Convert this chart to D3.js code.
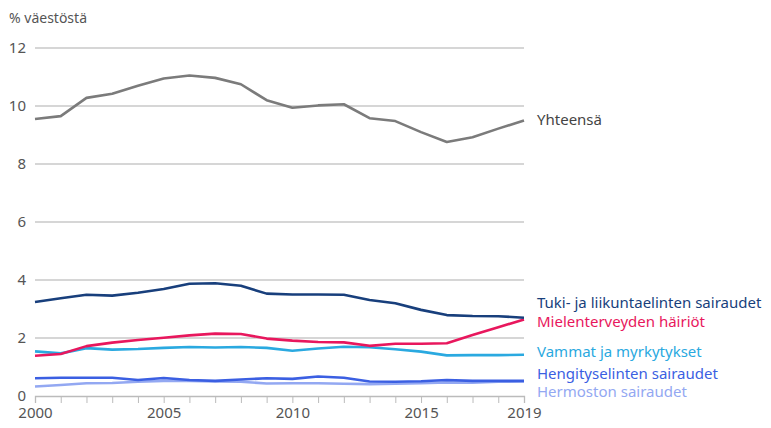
<!DOCTYPE html>
<html>
<head>
<meta charset="utf-8">
<script src="https://cdn.jsdelivr.net/npm/d3@7"></script>
<style>
  body { margin: 0; background: #fff; }
  svg text { font-family: "Noto Sans", "Open Sans", sans-serif; }
</style>
</head>
<body>
<div id="chart"></div>
<script>
const years = d3.range(2000, 2020);
const yTicks = [0, 2, 4, 6, 8, 10, 12];
const xTickLabels = [2000, 2005, 2010, 2015, 2019];

const yhteensa = [9.55, 9.65, 10.28, 10.42, 10.7, 10.95, 11.05, 10.97, 10.75, 10.2, 9.94, 10.02, 10.06, 9.58, 9.48, 9.1, 8.76, 8.92, 9.22, 9.5];
const tuki = [3.24, 3.37, 3.49, 3.46, 3.56, 3.69, 3.87, 3.89, 3.8, 3.53, 3.5, 3.5, 3.49, 3.31, 3.2, 2.97, 2.79, 2.76, 2.75, 2.7];
const mieli = [1.39, 1.45, 1.72, 1.84, 1.93, 2.01, 2.09, 2.15, 2.14, 1.98, 1.91, 1.86, 1.85, 1.73, 1.8, 1.8, 1.82, 2.1, 2.37, 2.64];
const vammat = [1.54, 1.47, 1.65, 1.6, 1.62, 1.66, 1.69, 1.67, 1.69, 1.66, 1.56, 1.64, 1.7, 1.68, 1.61, 1.53, 1.4, 1.41, 1.41, 1.42];
const hengitys = [0.61, 0.63, 0.63, 0.63, 0.55, 0.62, 0.55, 0.52, 0.57, 0.61, 0.59, 0.67, 0.63, 0.5, 0.49, 0.51, 0.55, 0.52, 0.52, 0.52];
const hermosto = [0.33, 0.38, 0.44, 0.45, 0.49, 0.52, 0.52, 0.5, 0.49, 0.43, 0.44, 0.44, 0.42, 0.41, 0.42, 0.44, 0.47, 0.46, 0.49, 0.5];

const seriesNames = ["Yhteensä", "Tuki- ja liikuntaelinten sairaudet", "Mielenterveyden häiriöt", "Vammat ja myrkytykset", "Hengityselinten sairaudet", "Hermoston sairaudet"];
const seriesValues = [yhteensa, tuki, mieli, vammat, hengitys, hermosto];
const lineColors = ["#7b7b7b", "#183f7c", "#e8175d", "#2aa9e0", "#3b5fe2", "#93a8f2"];
const labelColors = ["#444", "#183f7c", "#e8175d", "#2aa9e0", "#3b5fe2", "#93a8f2"];
const labelY = [120, 303, 322, 352, 374, 392];

const width = 771, height = 428;
const margin = { top: 48, right: 247, bottom: 32, left: 35 };

const svg = d3.select('#chart')
    .append('svg')
    .attr('width', width)
    .attr('height', height);

const xScale = d3.scaleLinear()
    .domain([2000, 2019])
    .range([margin.left, width - margin.right]);

const yScale = d3.scaleLinear()
    .domain([0, 12])
    .range([height - margin.bottom, margin.top]);

// grid lines
svg.append('g')
    .selectAll('line')
    .data(yTicks.filter(d => d > 0))
    .join('line')
    .attr('x1', margin.left)
    .attr('x2', width - margin.right)
    .attr('y1', d => yScale(d))
    .attr('y2', d => yScale(d))
    .attr('stroke', '#c8c8c8')
    .attr('stroke-width', 1.3);

// y labels
svg.append('g')
    .selectAll('text')
    .data(yTicks)
    .join('text')
    .attr('x', 26)
    .attr('y', d => yScale(d))
    .attr('dy', '0.35em')
    .attr('text-anchor', 'end')
    .attr('fill', '#555')
    .style('font-size', '15px')
    .text(d => d);

svg.append('text')
    .attr('x', 9)
    .attr('y', 23)
    .attr('fill', '#555')
    .style('font-size', '14px')
    .text('% väestöstä');

// x axis
const xAxis = d3.axisBottom(xScale)
    .tickValues(years)
    .tickSize(7)
    .tickFormat(d => xTickLabels.includes(d) ? d : '');

const gx = svg.append('g')
    .attr('transform', `translate(0, ${yScale(0)})`)
    .call(xAxis);
gx.select('.domain').attr('stroke', '#bbb').attr('stroke-width', 1.3);
gx.selectAll('.tick line').attr('stroke', '#bbb');
gx.selectAll('.tick text')
    .attr('fill', '#555')
    .attr('y', 11)
    .style('font-size', '15px')
    .style('font-family', '"Noto Sans", sans-serif');

// lines
const line = d3.line()
    .x((d, i) => xScale(years[i]))
    .y(d => yScale(d));

const order = [5, 4, 3, 2, 1, 0];
svg.append('g')
    .selectAll('path')
    .data(order)
    .join('path')
    .attr('d', i => line(seriesValues[i]))
    .attr('fill', 'none')
    .attr('stroke', i => lineColors[i])
    .attr('stroke-width', 2.6)
    .attr('stroke-linejoin', 'round');

// labels
svg.append('g')
    .selectAll('text')
    .data(seriesNames)
    .join('text')
    .attr('x', 537)
    .attr('y', (d, i) => labelY[i])
    .attr('dy', '0.35em')
    .attr('fill', (d, i) => labelColors[i])
    .style('font-size', '15px')
    .text(d => d);
</script>
</body>
</html>
